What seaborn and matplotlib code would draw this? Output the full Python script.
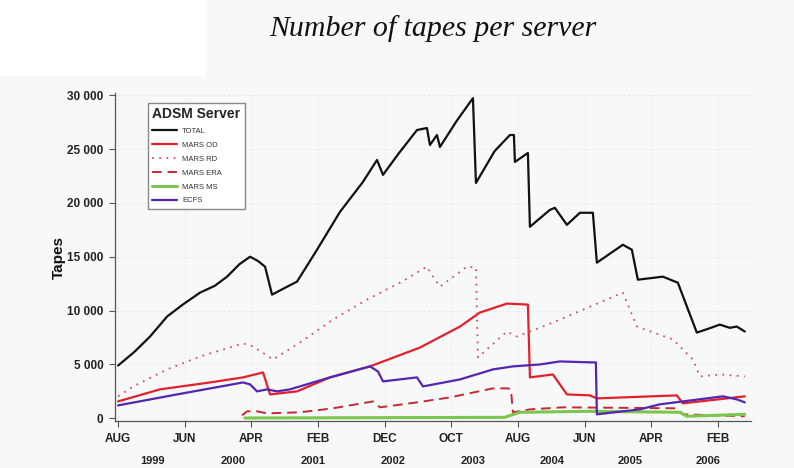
import matplotlib
matplotlib.use("Agg")
import matplotlib.pyplot as plt
from matplotlib.patches import Rectangle
from matplotlib.ticker import FuncFormatter
import seaborn as sns

# -----------------------------
# Data (x = months since AUG 1999, y = number of tapes)
# -----------------------------
total_m = [0, 2.5, 4.8, 7.35, 9.8, 12.3, 14.5, 16.35, 18.2, 19.8, 21.0, 22.05, 23.1, 25.0, 26.85,
           29.85, 33.3, 36.75, 38.85, 39.75, 42.0, 44.85, 46.35, 46.8, 47.85, 48.3, 50.8, 53.25,
           53.7, 56.5, 58.8, 59.4, 59.55, 61.5, 61.8, 64.8, 65.55, 67.35, 69.3, 71.25, 71.85,
           75.75, 77.1, 78.0, 81.75, 84.0, 86.85, 88.5, 90.3, 91.8, 92.85, 94.05]
total_v = [4900, 6200, 7600, 9450, 10600, 11670, 12300, 13150, 14300, 15000, 14600, 14080, 11480,
           12100, 12690, 15650, 19170, 21950, 23980, 22600, 24500, 26760, 26950, 25370, 26300,
           25190, 27600, 29720, 21850, 24800, 26300, 26300, 23800, 24630, 17780, 19350, 19540,
           17960, 19080, 19080, 14450, 16110, 15650, 12870, 13150, 12590, 7960, 8300, 8700, 8400,
           8520, 8060]

mars_od_m = [0, 6.3, 13.8, 18.75, 21.75, 22.8, 26.85, 31.8, 37.8, 45.3, 51.3, 54.3, 58.35, 61.5,
             61.8, 65.25, 67.35, 70.8, 71.85, 83.85, 84.75, 94.05]
mars_od_v = [1570, 2690, 3330, 3800, 4260, 2220, 2500, 3800, 4820, 6570, 8520, 9820, 10650, 10560,
             3800, 4070, 2220, 2130, 1850, 2130, 1390, 2040]

mars_rd_m = [0, 2.25, 7.35, 12.3, 18.75, 20.25, 23.25, 27.3, 32.25, 37.35, 42.3, 46.35, 47.25,
             48.3, 52.35, 53.7, 54.0, 58.35, 59.85, 65.25, 75.75, 77.85, 83.25, 86.25, 87.3,
             90.3, 94.05]
mars_rd_v = [2040, 2960, 4540, 5740, 6950, 6670, 5460, 7040, 9170, 11020, 12590, 14080, 13150,
             12220, 14080, 14000, 5650, 8060, 7590, 8890, 11670, 8520, 7320, 5460, 3890, 4070,
             3890]

mars_era_m = [18.6, 19.35, 20.85, 22.35, 27.3, 32.25, 38.25, 39.3, 44.85, 49.8, 56.25, 58.5,
              58.95, 59.25, 61.8, 66.75, 83.85, 84.75, 94.05]
mars_era_v = [280, 650, 650, 460, 560, 930, 1570, 1020, 1480, 1940, 2780, 2780, 2690, 560, 830,
              1020, 930, 370, 190]

mars_ms_m = [19.0, 58.0, 60.3, 70.35, 84.3, 85.35, 94.05]
mars_ms_v = [30, 90, 560, 650, 560, 190, 370]

ecfs_m = [0, 8.85, 18.75, 19.8, 20.85, 22.35, 23.85, 25.8, 31.8, 37.8, 39.0, 39.75, 44.85, 45.75,
          51.3, 56.25, 59.25, 63.3, 66.3, 71.25, 71.7, 71.85, 78.3, 81.3, 90.75, 92.85, 94.05]
ecfs_v = [1200, 2220, 3330, 3150, 2500, 2690, 2500, 2690, 3800, 4820, 4350, 3430, 3800, 2960,
          3610, 4540, 4820, 5000, 5280, 5190, 5190, 370, 830, 1300, 2040, 1760, 1480]

month_ticks = [0, 10, 20, 30, 40, 50, 60, 70, 80, 90]
month_labels = ["AUG", "JUN", "APR", "FEB", "DEC", "OCT", "AUG", "JUN", "APR", "FEB"]
year_labels = ["1999", "2000", "2001", "2002", "2003", "2004", "2005", "2006"]
year_pos = [5.1, 17.2, 29.2, 41.2, 53.2, 65.1, 76.8, 88.5]

# -----------------------------
# Figure
# -----------------------------
sns.set_theme(style="white")
plt.rcParams['font.family'] = ['Liberation Sans', 'DejaVu Sans']

bg = "#f7f8f8"
fig = plt.figure(figsize=(7.94, 4.68), dpi=100, facecolor=bg)
fig.patches.append(Rectangle((0, 1 - 75 / 468), 205 / 794, 75 / 468,
                             transform=fig.transFigure, color="white", zorder=0))

ax = fig.add_axes([0.145, 0.1004, 0.801, 0.7009])
ax.set_facecolor(bg)

series = [
    ("TOTAL", total_m, total_v, "#111111", "-", 1.6),
    ("MARS OD", mars_od_m, mars_od_v, "#e3202b", "-", 1.6),
    ("MARS RD", mars_rd_m, mars_rd_v, "#d8505e", (0, (1, 3)), 1.3),
    ("MARS ERA", mars_era_m, mars_era_v, "#c62832", (0, (5, 3)), 1.4),
    ("MARS MS", mars_ms_m, mars_ms_v, "#7cc64e", "-", 2.2),
    ("ECFS", ecfs_m, ecfs_v, "#5526b0", "-", 1.6),
]

for name, m, v, color, ls, lw in series:
    sns.lineplot(x=m, y=v, ax=ax, color=color, linestyle=ls, linewidth=lw,
                 label=name, estimator=None, sort=False)

ax.set_xlim(-0.45, 95)
ax.set_ylim(-250, 30200)

ax.grid(True, color="#e2e2e2", linestyle=(0, (2, 3)), linewidth=0.6)
ax.set_axisbelow(True)

for s in ["top", "right"]:
    ax.spines[s].set_visible(False)
for s in ["left", "bottom"]:
    ax.spines[s].set_color("#555555")
    ax.spines[s].set_linewidth(0.9)

ax.set_yticks(range(0, 30001, 5000))
ax.yaxis.set_major_formatter(FuncFormatter(lambda y, p: f"{int(y):,}".replace(",", " ")))
ax.set_xticks(month_ticks)
ax.set_xticklabels(month_labels)
ax.tick_params(axis="both", direction="out", length=4.5, width=0.8, color="#555555",
               labelsize=8.5, labelcolor="#222222", pad=4, bottom=True, left=True)
for lab in ax.get_xticklabels() + ax.get_yticklabels():
    lab.set_fontweight("bold")

# year row under the month labels
for yr, pos in zip(year_labels, year_pos):
    ax.annotate(yr, xy=(pos, 0), xycoords=("data", "axes fraction"),
                xytext=(0, -28.5), textcoords="offset points",
                ha="center", va="center", fontsize=8, fontweight="bold", color="#222222")

ax.set_xlabel("")
ax.set_ylabel("Tapes", fontsize=11, fontweight="bold", color="#111111", labelpad=1)

leg = ax.legend(title="ADSM Server", loc="upper left", bbox_to_anchor=(0.045, 0.982),
                fontsize=5.5, title_fontsize=10, frameon=True, fancybox=False,
                framealpha=1, facecolor="white", edgecolor="#888888",
                handlelength=3.3, handletextpad=0.6, labelspacing=0.85,
                borderpad=0.6, alignment="left")
leg.get_title().set_fontweight("bold")
leg.get_frame().set_linewidth(1.0)
for t in leg.get_texts():
    t.set_color("#333333")

fig.text(0.545, 0.94, "Number of tapes per server", ha="center", va="center",
         fontsize=21.5, fontstyle="italic", family=["Liberation Serif", "DejaVu Serif"],
         color="#111111")

fig.savefig("out.png", dpi=100, facecolor=bg)
plt.close(fig)
